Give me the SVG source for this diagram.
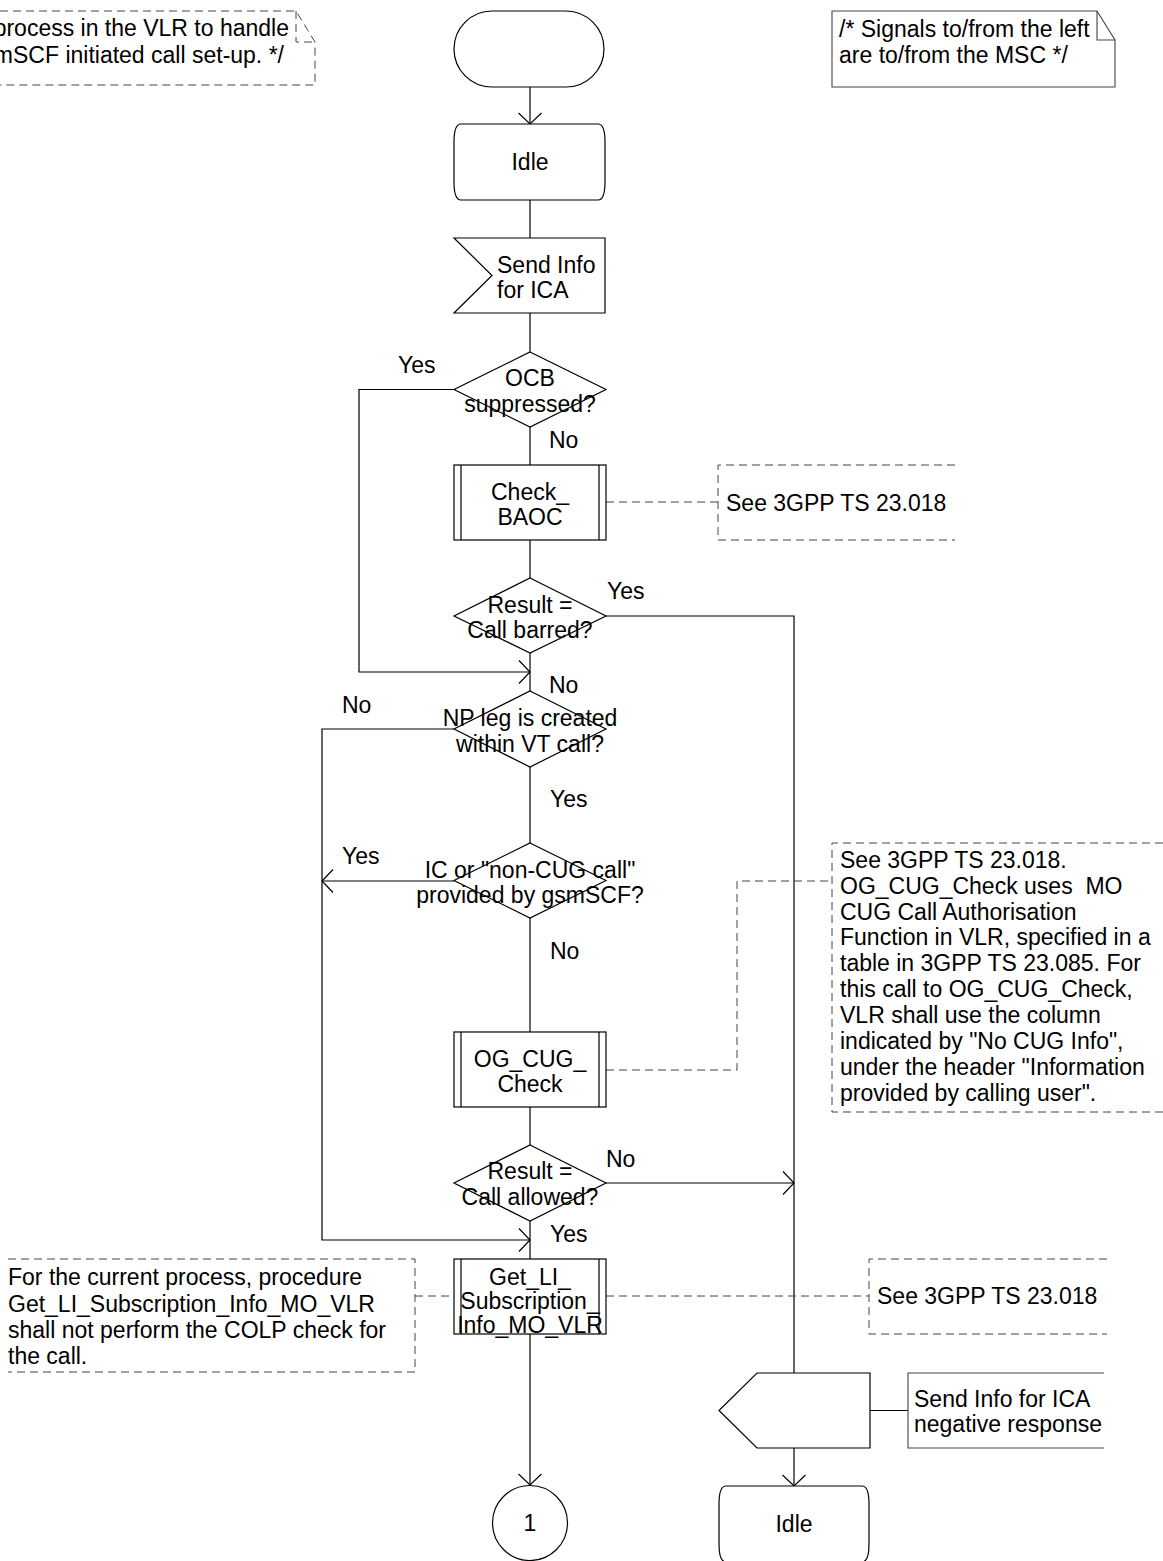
<svg xmlns="http://www.w3.org/2000/svg" width="1163" height="1561" viewBox="0 0 1163 1561">
<style>
  text { font-family: "Liberation Sans", Arial, sans-serif; font-size: 23px; fill: #000; }
  .m { text-anchor: middle; }
  .e { text-anchor: end; }
  .s { fill: #fff; stroke: #000; stroke-width: 1.2; }
  .c { fill: none; stroke: #000; stroke-width: 1.2; }
  .d { fill: none; stroke: #444; stroke-width: 1; stroke-dasharray: 8 5; }
  .n { fill: none; stroke: #444; stroke-width: 1.1; }
</style>
<defs>
  <marker id="arr" markerUnits="userSpaceOnUse" markerWidth="14" markerHeight="26" viewBox="0 0 14 26" refX="13" refY="13" orient="auto">
    <path d="M2,1.5 L13,13 L2,24.5" fill="none" stroke="#000" stroke-width="1.2"/>
  </marker>
</defs>
<rect width="1163" height="1561" fill="#fff"/>

<g id="connectors">
  <path class="c" d="M530,87 V124" marker-end="url(#arr)"/>
  <path class="c" d="M530,200 V238"/>
  <path class="c" d="M530,313 V352"/>
  <path class="c" d="M530,427 V465"/>
  <path class="c" d="M530,540 V578"/>
  <path class="c" d="M530,653 V691"/>
  <path class="c" d="M454,389.5 H359 V672 H530" marker-end="url(#arr)"/>
  <path class="c" d="M606,616 H794 V1373"/>
  <path class="c" d="M530,767 V843"/>
  <path class="c" d="M454,729 H322 V1240 H530" marker-end="url(#arr)"/>
  <path class="c" d="M454,881 H322" marker-end="url(#arr)"/>
  <path class="c" d="M530,918 V1032"/>
  <path class="c" d="M530,1107 V1145"/>
  <path class="c" d="M606,1183 H794" marker-end="url(#arr)"/>
  <path class="c" d="M530,1221 V1259"/>
  <path class="c" d="M530,1334 V1485" marker-end="url(#arr)"/>
  <path class="c" d="M794,1448 V1486" marker-end="url(#arr)"/>
  <path class="c" d="M870,1410.5 H908"/>
  <path class="d" d="M606,502 H718"/>
  <path class="d" d="M606,1070 H737 V881 H832"/>
  <path class="d" d="M415,1296 H454"/>
  <path class="d" d="M606,1296 H869"/>
  <text x="398" y="373">Yes</text>
  <text x="549" y="448">No</text>
  <text x="607" y="599">Yes</text>
  <text x="549" y="693">No</text>
  <text x="342" y="713">No</text>
  <text x="550" y="807">Yes</text>
  <text x="342" y="864">Yes</text>
  <text x="550" y="959">No</text>
  <text x="606" y="1167">No</text>
  <text x="550" y="1242">Yes</text>
</g>

<g id="comment-process">
  <path class="d" d="M0,11 H296 L315,42 V85 H0"/>
  <path class="d" d="M296,11 V42 H315"/>
  <text class="e" x="289" y="36">process in the VLR to handle</text>
  <text class="e" x="284" y="63">mSCF initiated call set-up. */</text>
</g>

<g id="comment-signals">
  <path class="n" d="M832,11 H1097 L1115,40 V87 H832 Z"/>
  <path class="n" d="M1097,11 V40 H1115"/>
  <text x="839" y="37">/* Signals to/from the left</text>
  <text x="839" y="63">are to/from the MSC */</text>
</g>

<g id="start">
  <rect class="s" x="454" y="11" width="150" height="76" rx="38" ry="38"/>
</g>

<g id="idle1">
  <path class="s" d="M461,124 H598 Q605,124 605,142 V182 Q605,200 598,200 H461 Q454,200 454,182 V142 Q454,124 461,124 Z"/>
  <text class="m" x="530" y="170">Idle</text>
</g>

<g id="send-info">
  <path class="s" d="M454,238 H605 V313 H454 L492,275.5 Z"/>
  <text x="497" y="273">Send Info</text>
  <text x="497" y="298">for ICA</text>
</g>

<g id="ocb">
  <path class="s" d="M530,352 L606,389.5 L530,427 L454,389.5 Z"/>
  <text class="m" x="530" y="386">OCB</text>
  <text class="m" x="530" y="412">suppressed?</text>
</g>

<g id="check-baoc">
  <rect class="s" x="454" y="465" width="152" height="75"/>
  <path class="c" d="M461,465 V540 M599,465 V540"/>
  <text class="m" x="530" y="500">Check_</text>
  <text class="m" x="530" y="525">BAOC</text>
</g>

<g id="comment-baoc">
  <path class="d" d="M955,465 H718 V540 H955"/>
  <text x="726" y="511">See 3GPP TS 23.018</text>
</g>

<g id="call-barred">
  <path class="s" d="M530,578 L606,616 L530,653 L454,616 Z"/>
  <text class="m" x="530" y="613">Result =</text>
  <text class="m" x="530" y="638">Call barred?</text>
</g>

<g id="np-leg">
  <path class="s" d="M530,691 L606,729 L530,767 L454,729 Z"/>
  <text class="m" x="530" y="726">NP leg is created</text>
  <text class="m" x="530" y="752">within VT call?</text>
</g>

<g id="ic-noncug">
  <path class="s" d="M530,843 L606,880.5 L530,918 L454,880.5 Z"/>
  <text class="m" x="530" y="878">IC or "non-CUG call"</text>
  <text class="m" x="530" y="903">provided by gsmSCF?</text>
</g>

<g id="og-cug-check">
  <rect class="s" x="454" y="1032" width="152" height="75"/>
  <path class="c" d="M461,1032 V1107 M599,1032 V1107"/>
  <text class="m" x="530" y="1067">OG_CUG_</text>
  <text class="m" x="530" y="1092">Check</text>
</g>

<g id="comment-cug">
  <path class="d" d="M1163,843 H832 V1112 H1163"/>
  <text x="840" y="867.7">See 3GPP TS 23.018.</text>
  <text x="840" y="893.6" xml:space="preserve">OG_CUG_Check uses  MO</text>
  <text x="840" y="919.5">CUG Call Authorisation</text>
  <text x="840" y="945.4">Function in VLR, specified in a</text>
  <text x="840" y="971.3">table in 3GPP TS 23.085. For</text>
  <text x="840" y="997.2">this call to OG_CUG_Check,</text>
  <text x="840" y="1023.1">VLR shall use the column</text>
  <text x="840" y="1049">indicated by "No CUG Info",</text>
  <text x="840" y="1074.9">under the header "Information</text>
  <text x="840" y="1100.8">provided by calling user".</text>
</g>

<g id="call-allowed">
  <path class="s" d="M530,1145 L606,1183 L530,1221 L454,1183 Z"/>
  <text class="m" x="530" y="1179">Result =</text>
  <text class="m" x="530" y="1205">Call allowed?</text>
</g>

<g id="get-li">
  <rect class="s" x="454" y="1259" width="152" height="75"/>
  <path class="c" d="M461,1259 V1334 M599,1259 V1334"/>
  <text class="m" x="530" y="1285">Get_LI_</text>
  <text class="m" x="530" y="1309">Subscription_</text>
  <text class="m" x="530" y="1333">Info_MO_VLR</text>
</g>

<g id="comment-getli-left">
  <path class="d" d="M8,1259 H415 V1372 H8"/>
  <text x="8" y="1285">For the current process, procedure</text>
  <text x="8" y="1312">Get_LI_Subscription_Info_MO_VLR</text>
  <text x="8" y="1338">shall not perform the COLP check for</text>
  <text x="8" y="1364">the call.</text>
</g>

<g id="comment-getli-right">
  <path class="d" d="M1107,1259 H869 V1334 H1107"/>
  <text x="877" y="1304">See 3GPP TS 23.018</text>
</g>

<g id="send-negative">
  <path class="s" d="M757,1373 H870 V1448 H757 L719,1410.5 Z"/>
</g>

<g id="comment-negative">
  <path class="n" d="M1104,1373 H908 V1448 H1104"/>
  <text x="914" y="1407">Send Info for ICA</text>
  <text x="914" y="1432">negative response</text>
</g>

<g id="connector-1">
  <circle class="s" cx="530" cy="1523" r="37.5"/>
  <text class="m" x="530" y="1531">1</text>
</g>

<g id="idle2">
  <path class="s" d="M726,1486 H862 Q869,1486 869,1504 V1544 Q869,1562 862,1562 H726 Q719,1562 719,1544 V1504 Q719,1486 726,1486 Z"/>
  <text class="m" x="794" y="1532">Idle</text>
</g>
</svg>
